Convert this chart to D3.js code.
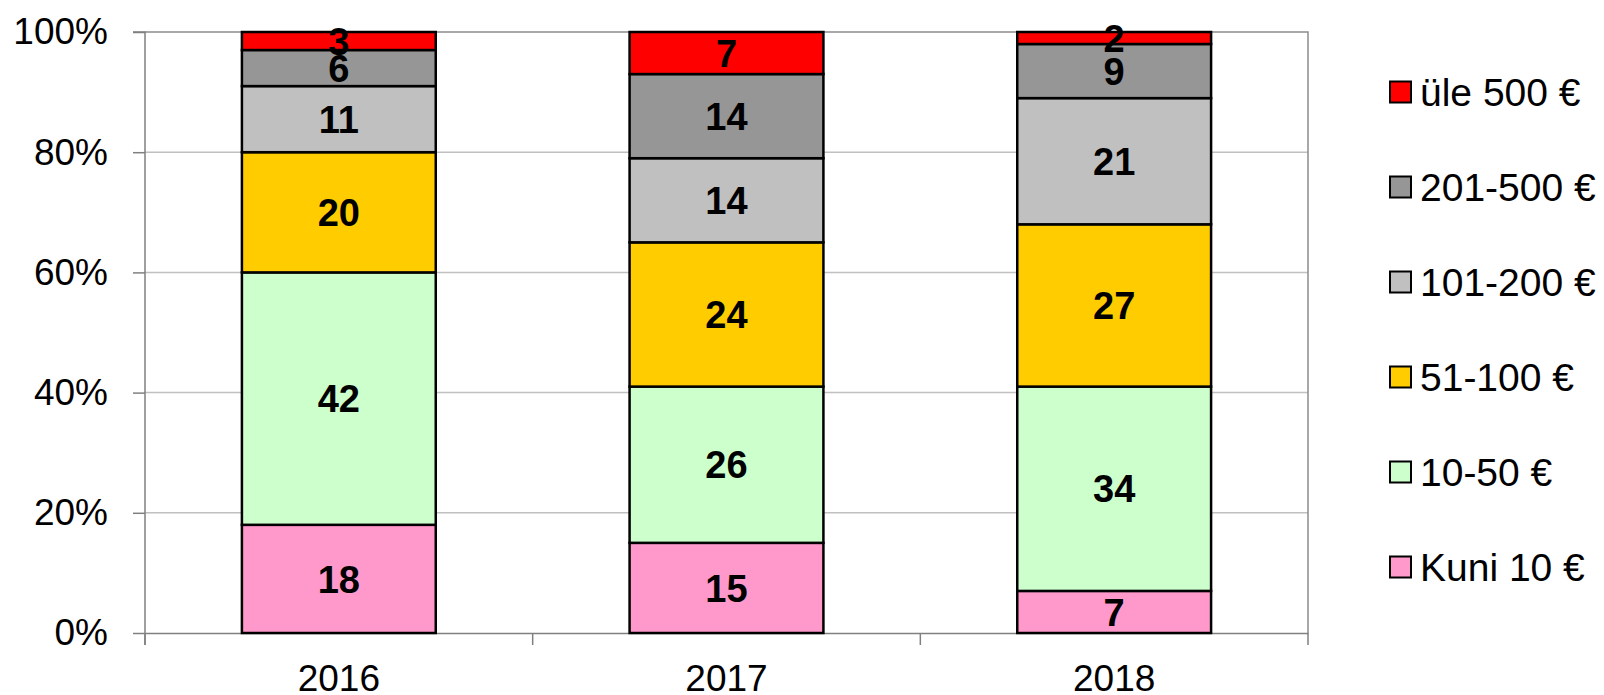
<!DOCTYPE html>
<html>
<head>
<meta charset="utf-8">
<script src="https://cdn.jsdelivr.net/npm/d3@7"></script>
<style>
  body { margin: 0; background: #fff; }
  svg text { font-family: "Liberation Sans", Arial, sans-serif; }
</style>
</head>
<body>
<div id="chart"></div>
<script>
// data
var years = ["2016", "2017", "2018"];
var groups = ["Kuni 10 €", "10-50 €", "51-100 €", "101-200 €", "201-500 €", "üle 500 €"];
var kuni10 = [18, 15, 7];
var v10_50 = [42, 26, 34];
var v51_100 = [20, 24, 27];
var v101_200 = [11, 14, 21];
var v201_500 = [6, 14, 9];
var yle500 = [3, 7, 2];
var colors = ["#ff99cc", "#ccffcc", "#ffcc00", "#c0c0c0", "#969696", "#ff0000"];
var yTicks = [0, 20, 40, 60, 80, 100];

var series = [kuni10, v10_50, v51_100, v101_200, v201_500, yle500];

var margin = {top: 32, right: 296, bottom: 62, left: 145};
var width = 1604 - margin.left - margin.right;
var height = 695 - margin.top - margin.bottom;

var svg = d3.select("#chart")
  .append("svg")
    .attr("width", 1604)
    .attr("height", 695)
  .append("g")
    .attr("transform", "translate(" + margin.left + "," + margin.top + ")");

// rows for stacking
var rows = years.map(function(y, i) {
  var r = {year: y};
  groups.forEach(function(g, j) { r[g] = series[j][i]; });
  return r;
});
var stacked = d3.stack().keys(groups)(rows);

var x = d3.scaleBand()
  .domain(years)
  .range([0, width])
  .paddingInner(0.5)
  .paddingOuter(0.25);

var y = d3.scaleLinear()
  .domain([0, 100])
  .range([height, 0]);

// gridlines
svg.append("g")
  .selectAll("line")
  .data(yTicks.slice(1, -1))
  .enter().append("line")
    .attr("x1", 0).attr("x2", width)
    .attr("y1", function(d) { return y(d); })
    .attr("y2", function(d) { return y(d); })
    .attr("stroke", "#c0c0c0")
    .attr("stroke-width", 1.5);

// plot frame top + right
svg.append("path")
  .attr("d", "M0," + y(100) + "H" + width + "V" + height)
  .attr("fill", "none")
  .attr("stroke", "#8c8c8c")
  .attr("stroke-width", 1.5);

// y axis
var yAxis = svg.append("g")
  .call(d3.axisLeft(y).tickValues(yTicks).tickSize(12).tickPadding(25)
    .tickFormat(function(d) { return d + "%"; }));
yAxis.select(".domain").attr("stroke", "#808080").attr("stroke-width", 1.5)
  .attr("d", "M-12,0H0V" + (height + 12) + "M0," + height);
yAxis.selectAll(".tick line").attr("stroke", "#808080").attr("stroke-width", 1.5);
yAxis.selectAll("text").attr("font-size", 37).attr("fill", "#000");

// x axis
var xAxis = svg.append("g")
  .attr("transform", "translate(0," + height + ")")
  .call(d3.axisBottom(x).tickSize(0).tickPadding(32));
xAxis.select(".domain").attr("stroke", "#808080").attr("stroke-width", 1.5);
xAxis.selectAll("text").attr("font-size", 37).attr("fill", "#000");

// category boundary ticks
var step = x.step();
svg.append("g")
  .selectAll("line")
  .data(d3.range(years.length + 1))
  .enter().append("line")
    .attr("x1", function(i) { return i * step; })
    .attr("x2", function(i) { return i * step; })
    .attr("y1", height).attr("y2", height + 12)
    .attr("stroke", "#808080")
    .attr("stroke-width", 1.5);

// bars
var layer = svg.selectAll(".layer")
  .data(stacked)
  .enter().append("g")
    .attr("class", "layer")
    .attr("fill", function(d, i) { return colors[i]; });

layer.selectAll("rect")
  .data(function(d) { return d; })
  .enter().append("rect")
    .attr("x", function(d) { return x(d.data.year); })
    .attr("y", function(d) { return y(d[1]); })
    .attr("width", x.bandwidth())
    .attr("height", function(d) { return y(d[0]) - y(d[1]); })
    .attr("stroke", "#000")
    .attr("stroke-width", 2.5);

// value labels
layer.selectAll("text")
  .data(function(d) { return d; })
  .enter().append("text")
    .attr("x", function(d) { return x(d.data.year) + x.bandwidth() / 2; })
    .attr("y", function(d) { return (y(d[0]) + y(d[1])) / 2; })
    .attr("dy", "0.36em")
    .attr("text-anchor", "middle")
    .attr("font-size", 38)
    .attr("font-weight", "bold")
    .attr("fill", "#000")
    .text(function(d) { return d[1] - d[0]; });

// legend, top item is the last series
var legend = d3.select("svg").append("g")
  .attr("transform", "translate(1390,92)");
var items = legend.selectAll("g")
  .data(groups.slice().reverse())
  .enter().append("g")
    .attr("transform", function(d, i) { return "translate(0," + (i * 95) + ")"; });
items.append("rect")
  .attr("x", 0).attr("y", -10.5)
  .attr("width", 21).attr("height", 21)
  .attr("fill", function(d) { return colors[groups.indexOf(d)]; })
  .attr("stroke", "#000")
  .attr("stroke-width", 2);
items.append("text")
  .attr("x", 30)
  .attr("y", 0)
  .attr("dy", "0.36em")
  .attr("font-size", 39)
  .attr("fill", "#000")
  .text(function(d) { return d; });
</script>
</body>
</html>
